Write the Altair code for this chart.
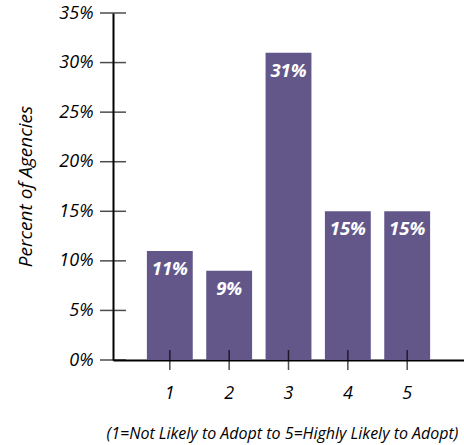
import altair as alt
import pandas as pd

categories = ["1", "2", "3", "4", "5"]
values = [11, 9, 31, 15, 15]
labels = ["11%", "9%", "31%", "15%", "15%"]
yticks = [0, 5, 10, 15, 20, 25, 30, 35]

FONT = "Open Sans"
COLOR = "#63578a"

df = pd.DataFrame({"cat": categories, "val": values, "label": labels})
tdf = pd.DataFrame({"t": yticks})

xscale = alt.Scale(domain=categories, paddingInner=0.227, paddingOuter=0.571)
yscale = alt.Scale(domain=[0, 35], nice=False)

x_enc = alt.X(
    "cat:N", scale=xscale, sort=categories,
    axis=alt.Axis(
        title="(1=Not Likely to Adopt to 5=Highly Likely to Adopt)",
        labelAngle=0, ticks=False, labelPadding=24, labelFontSize=18,
        labelFont=FONT, labelFontStyle="italic", labelColor="black",
        domainColor="black", domainWidth=2,
        titleFont=FONT, titleFontSize=16, titleFontStyle="italic", titleFontWeight="normal",
        titleColor="black", titleX=169, titleY=73, titleAlign="center", titleBaseline="middle",
    ),
)
y_enc = alt.Y(
    "val:Q", scale=yscale,
    axis=alt.Axis(
        title="Percent of Agencies", values=yticks, grid=False, ticks=False,
        labelExpr="datum.value + '%'", labelPadding=20, labelFontSize=18,
        labelFont=FONT, labelFontStyle="italic", labelColor="black",
        domainColor="black", domainWidth=2,
        titleFont=FONT, titleFontSize=19, titleFontStyle="italic", titleFontWeight="normal",
        titleColor="black", titleX=-88, titleY=173, titleAngle=-90,
        titleAlign="center", titleBaseline="middle",
    ),
)

bars = alt.Chart(df).mark_bar(color=COLOR).encode(x=x_enc, y=y_enc)

text = alt.Chart(df).mark_text(
    color="white", font=FONT, fontSize=18.5, fontWeight="bold", fontStyle="italic",
    baseline="middle", dy=18,
).encode(x=alt.X("cat:N", scale=xscale, sort=categories), y=alt.Y("val:Q", scale=yscale), text="label:N")

xticks = alt.Chart(df).mark_tick(orient="vertical", size=20, thickness=1.5, color="black").encode(
    x=alt.X("cat:N", scale=xscale, sort=categories), y=alt.YDatum(0, scale=yscale)
)

ytick_marks = alt.Chart(tdf).mark_tick(orient="horizontal", size=26, thickness=1.5, color="black").encode(
    y=alt.Y("t:Q", scale=yscale), x=alt.value(0)
)

chart = alt.layer(bars, text, xticks, ytick_marks).properties(
    width=351, height=347,
    autosize=alt.AutoSizeParams(type="none"),
    padding={"left": 113, "top": 13, "right": 0, "bottom": 85},
    background="white",
).configure_view(stroke=None)

chart.save("out.html", embed_options={"renderer": "svg", "actions": False})
